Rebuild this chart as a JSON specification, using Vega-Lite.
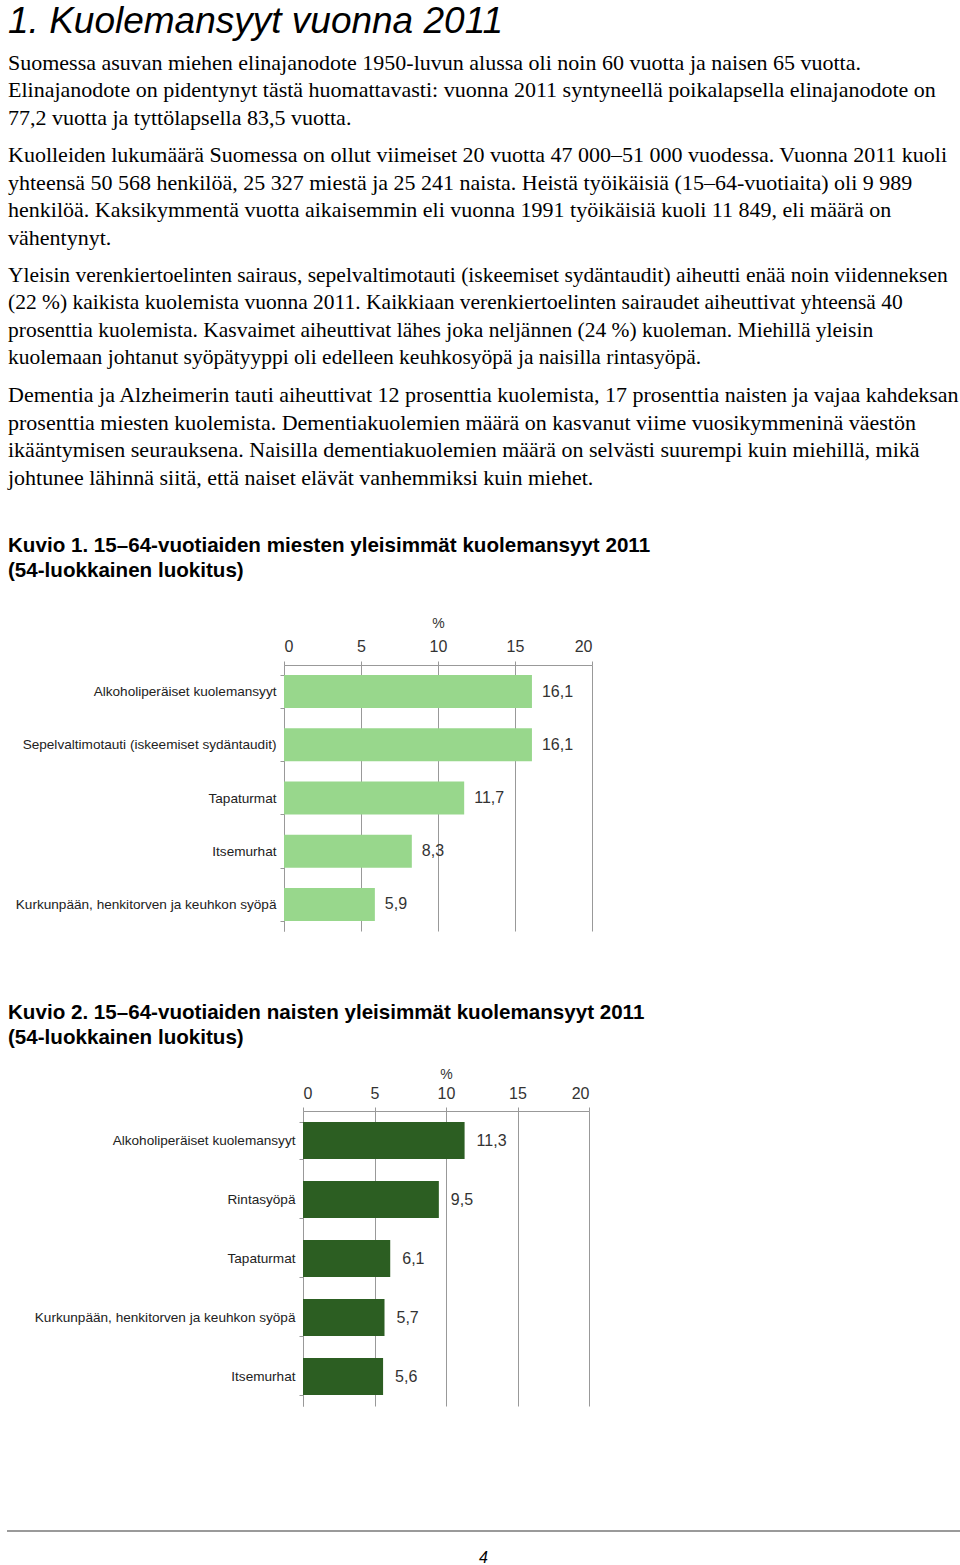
{
  "$schema": "https://vega.github.io/schema/vega-lite/v6.json",
  "padding": {"left": 7, "top": 2, "right": 0, "bottom": 0},
  "background": "white",
  "config": {
    "locale": {"number": {"decimal": ",", "thousands": " ", "grouping": [3], "currency": ["", " €"]}},
    "view": {"stroke": null},
    "title": {"anchor": "start", "frame": "group", "color": "#000"},
    "concat": {"spacing": 0}
  },
  "vconcat": [
    {
      "width": 950, "height": 1,
      "data": {"values": [{"t": ""}]},
      "mark": "text",
      "encoding": {"text": {"field": "t"}},
      "title": {
        "text": "1. Kuolemansyyt vuonna 2011",
        "font": "Liberation Sans", "fontSize": 37, "fontStyle": "italic", "fontWeight": "normal",
        "subtitle": [
          "Suomessa asuvan miehen elinajanodote 1950-luvun alussa oli noin 60 vuotta ja naisen 65 vuotta.",
          "Elinajanodote on pidentynyt tästä huomattavasti: vuonna 2011 syntyneellä poikalapsella elinajanodote on",
          "77,2 vuotta ja tyttölapsella 83,5 vuotta."
        ],
        "subtitleFont": "Liberation Serif", "subtitleFontSize": 22, "subtitleLineHeight": 27.5,
        "subtitleColor": "#000", "subtitlePadding": 12, "offset": 3
      }
    },
    {
      "width": 950, "height": 1,
      "data": {"values": [{"t": ""}]},
      "mark": "text",
      "encoding": {"text": {"field": "t"}},
      "title": {
        "text": [
          "Kuolleiden lukumäärä Suomessa on ollut viimeiset 20 vuotta 47 000–51 000 vuodessa. Vuonna 2011 kuoli",
          "yhteensä 50 568 henkilöä, 25 327 miestä ja 25 241 naista. Heistä työikäisiä (15–64-vuotiaita) oli 9 989",
          "henkilöä. Kaksikymmentä vuotta aikaisemmin eli vuonna 1991 työikäisiä kuoli 11 849, eli määrä on",
          "vähentynyt."
        ],
        "font": "Liberation Serif", "fontSize": 22, "fontWeight": "normal", "lineHeight": 27.5, "offset": 3
      }
    },
    {
      "width": 950, "height": 1,
      "data": {"values": [{"t": ""}]},
      "mark": "text",
      "encoding": {"text": {"field": "t"}},
      "title": {
        "text": [
          "Yleisin verenkiertoelinten sairaus, sepelvaltimotauti (iskeemiset sydäntaudit) aiheutti enää noin viidenneksen",
          "(22 %) kaikista kuolemista vuonna 2011. Kaikkiaan verenkiertoelinten sairaudet aiheuttivat yhteensä 40",
          "prosenttia kuolemista. Kasvaimet aiheuttivat lähes joka neljännen (24 %) kuoleman. Miehillä yleisin",
          "kuolemaan johtanut syöpätyyppi oli edelleen keuhkosyöpä ja naisilla rintasyöpä."
        ],
        "font": "Liberation Serif", "fontSize": 21.5, "fontWeight": "normal", "lineHeight": 27.5, "offset": 4
      }
    },
    {
      "width": 950, "height": 1,
      "data": {"values": [{"t": ""}]},
      "mark": "text",
      "encoding": {"text": {"field": "t"}},
      "title": {
        "text": [
          "Dementia ja Alzheimerin tauti aiheuttivat 12 prosenttia kuolemista, 17 prosenttia naisten ja vajaa kahdeksan",
          "prosenttia miesten kuolemista. Dementiakuolemien määrä on kasvanut viime vuosikymmeninä väestön",
          "ikääntymisen seurauksena. Naisilla dementiakuolemien määrä on selvästi suurempi kuin miehillä, mikä",
          "johtunee lähinnä siitä, että naiset elävät vanhemmiksi kuin miehet."
        ],
        "font": "Liberation Serif", "fontSize": 22, "fontWeight": "normal", "lineHeight": 27.5, "offset": 35
      }
    },
    {
      "width": 584, "height": 266,
      "title": {
        "text": ["Kuvio 1. 15–64-vuotiaiden miesten yleisimmät kuolemansyyt 2011", "(54-luokkainen luokitus)"],
        "font": "Liberation Sans", "fontSize": 20.6, "fontWeight": "bold", "lineHeight": 25, "offset": 34
      },
      "data": {"values": [
        {"cause": "Alkoholiperäiset kuolemansyyt", "value": 16.1},
        {"cause": "Sepelvaltimotauti (iskeemiset sydäntaudit)", "value": 16.1},
        {"cause": "Tapaturmat", "value": 11.7},
        {"cause": "Itsemurhat", "value": 8.3},
        {"cause": "Kurkunpään, henkitorven ja keuhkon syöpä", "value": 5.9}
      ]},
      "encoding": {
        "y": {
          "field": "cause", "type": "nominal", "sort": null,
          "scale": {"paddingInner": 0.38, "paddingOuter": 0.19},
          "axis": {"title": null, "offset": -276, "tickBand": "extent", "labelFont": "Liberation Sans", "labelFontSize": 13.6,
                   "labelColor": "#222", "domainColor": "#999", "tickColor": "#999", "tickSize": 4, "labelPadding": 4, "labelLimit": 400}
        },
        "x": {
          "field": "value", "type": "quantitative",
          "scale": {"domain": [0, 20], "range": [276, 584], "nice": false},
          "axis": {"orient": "top", "values": [0, 5, 10, 15, 20], "title": "%", "grid": true, "gridColor": "#999",
                   "domainColor": "#999", "tickColor": "#999", "tickSize": 4, "labelFont": "Liberation Sans",
                   "labelFontSize": 16, "labelColor": "#333", "titleFont": "Liberation Sans", "titleFontSize": 14,
                   "titleFontWeight": "normal", "titleColor": "#333", "titlePadding": 8, "labelPadding": 7}
        }
      },
      "layer": [
        {"mark": {"type": "bar", "color": "#98d78c"}},
        {"mark": {"type": "text", "align": "left", "dx": 10, "font": "Liberation Sans", "fontSize": 16, "color": "#333"},
         "encoding": {"text": {"field": "value", "type": "quantitative", "format": ".1f"}}}
      ]
    },
    {
      "width": 950, "height": 72,
      "data": {"values": [{"t": ""}]},
      "mark": "text",
      "encoding": {"text": {"field": "t"}}
    },
    {
      "width": 581, "height": 295,
      "title": {
        "text": ["Kuvio 2. 15–64-vuotiaiden naisten yleisimmät kuolemansyyt 2011", "(54-luokkainen luokitus)"],
        "font": "Liberation Sans", "fontSize": 20.6, "fontWeight": "bold", "lineHeight": 25, "offset": 18
      },
      "data": {"values": [
        {"cause": "Alkoholiperäiset kuolemansyyt", "value": 11.3},
        {"cause": "Rintasyöpä", "value": 9.5},
        {"cause": "Tapaturmat", "value": 6.1},
        {"cause": "Kurkunpään, henkitorven ja keuhkon syöpä", "value": 5.7},
        {"cause": "Itsemurhat", "value": 5.6}
      ]},
      "encoding": {
        "y": {
          "field": "cause", "type": "nominal", "sort": null,
          "scale": {"paddingInner": 0.37, "paddingOuter": 0.185},
          "axis": {"title": null, "offset": -295, "tickBand": "extent", "labelFont": "Liberation Sans", "labelFontSize": 13.6,
                   "labelColor": "#222", "domainColor": "#999", "tickColor": "#999", "tickSize": 4, "labelPadding": 4, "labelLimit": 400}
        },
        "x": {
          "field": "value", "type": "quantitative",
          "scale": {"domain": [0, 20], "range": [295, 581], "nice": false},
          "axis": {"orient": "top", "values": [0, 5, 10, 15, 20], "title": "%", "grid": true, "gridColor": "#999",
                   "domainColor": "#999", "tickColor": "#999", "tickSize": 4, "labelFont": "Liberation Sans",
                   "labelFontSize": 16, "labelColor": "#333", "titleFont": "Liberation Sans", "titleFontSize": 14,
                   "titleFontWeight": "normal", "titleColor": "#333", "titlePadding": 4, "labelPadding": 6}
        }
      },
      "layer": [
        {"mark": {"type": "bar", "color": "#2c5e22"}},
        {"mark": {"type": "text", "align": "left", "dx": 12, "font": "Liberation Sans", "fontSize": 16, "color": "#333"},
         "encoding": {"text": {"field": "value", "type": "quantitative", "format": ".1f"}}}
      ]
    },
    {
      "width": 950, "height": 118,
      "data": {"values": [{"t": ""}]},
      "mark": "text",
      "encoding": {"text": {"field": "t"}}
    },
    {
      "width": 951, "height": 0.1,
      "view": {"stroke": "#9a9a9a", "strokeWidth": 2},
      "data": {"values": [{"t": ""}]},
      "mark": "text",
      "encoding": {"text": {"field": "t"}},
      "title": {"text": "4", "orient": "bottom", "anchor": "middle", "font": "Liberation Sans", "fontSize": 16,
                "fontStyle": "italic", "fontWeight": "normal", "offset": 14}
    }
  ]
}
